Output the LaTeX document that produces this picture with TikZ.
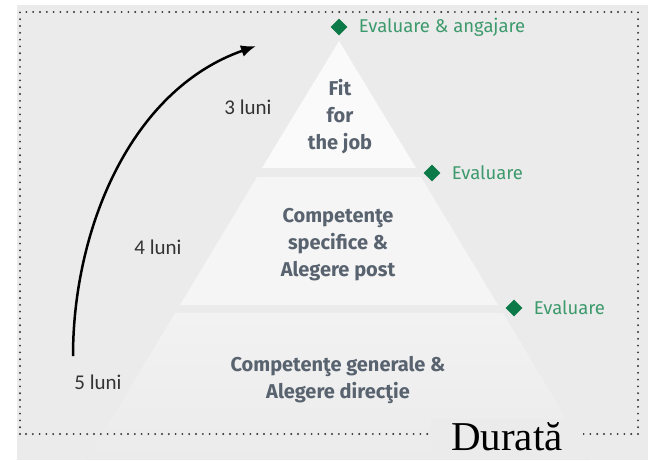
\documentclass[tikz,border=0pt]{standalone}
\usepackage{fontspec}
\setmainfont{Fira Sans}
\newfontfamily\durfont{Liberation Serif}
\newfontfamily\handfont{Carlito}
\usetikzlibrary{shapes, positioning, arrows.meta}

\definecolor{bggray}{HTML}{EBEBEB}
\definecolor{tiertop}{HTML}{FAFAFA}
\definecolor{tiermid}{HTML}{F5F5F5}
\definecolor{tierbot}{HTML}{F2F2F2}
\definecolor{tierink}{HTML}{58636F}
\definecolor{evgreen}{HTML}{3D9A6D}
\definecolor{dkgreen}{HTML}{0B7A48}
\definecolor{dotgray}{HTML}{333333}

\tikzset{
    tiertext/.style={text=tierink, font=\bfseries\fontsize{20}{27}\selectfont, align=center},
    evmark/.style={diamond, fill=dkgreen, minimum size=17pt, inner sep=0pt},
    evlabel/.style={text=evgreen, font=\fontsize{18.5}{20}\selectfont, inner sep=0pt},
    luni/.style={font=\handfont\fontsize{21}{22}\selectfont, text=black!80},
}

\begin{document}
\begin{tikzpicture}[x=1pt, y=-1pt]
        \useasboundingbox (0,0) rectangle (652,460);
        \fill[bggray] (17,5) rectangle (648,460);

        % pyramid
        \fill[tiertop] (339,41) -- (416,168) -- (262,168) -- cycle;
        \fill[tiermid] (257,177) -- (421,177) -- (498,305) -- (180,305) -- cycle;
        \shade[top color=tierbot, bottom color=bggray] (175,313) -- (503,313) -- (591,460) -- (87,460) -- cycle;

        % frame
        \draw[dotgray, line width=2.1pt, line cap=round, dash pattern=on 0pt off 6.8pt] (20,434) -- (20,12) -- (638,12) -- (638,434) -- cycle;

        \node[tiertext] (fit) at (340,117) {Fit\\for\\the job};
        \node[tiertext] (spec) at (338,245) {Competenţe\\specifice \&\\Alegere post};
        \node[tiertext] (gen) at (338,380) {Competenţe generale \&\\Alegere direcţie};

        \node[evmark] (d1) at (339,27) {};
        \node[evmark] (d2) at (432,173) {};
        \node[evmark] (d3) at (514,308) {};
        \node[evlabel, right=11pt of d1] (e1) {Evaluare \& angajare};
        \node[evlabel, right=11pt of d2] (e2) {Evaluare};
        \node[evlabel, right=11pt of d3] (e3) {Evaluare};

        \node[luni] (l3) at (248,107) {3 luni};
        \node[luni] (l4) at (158,247) {4 luni};
        \node[luni] (l5) at (98,382) {5 luni};

        \coordinate (a0) at (73,356);
        \coordinate (a1) at (256,46);
        \draw[-{Latex[length=15pt, width=12pt]}, line width=2.5pt] (a0) .. controls (73,230) and (130,90) .. (a1);

        \node[fill=bggray, inner xsep=20pt, anchor=base, font=\durfont\fontsize{41}{41}\selectfont] (dur) at (507,450) {Durată};
    \end{tikzpicture}
\end{document}
